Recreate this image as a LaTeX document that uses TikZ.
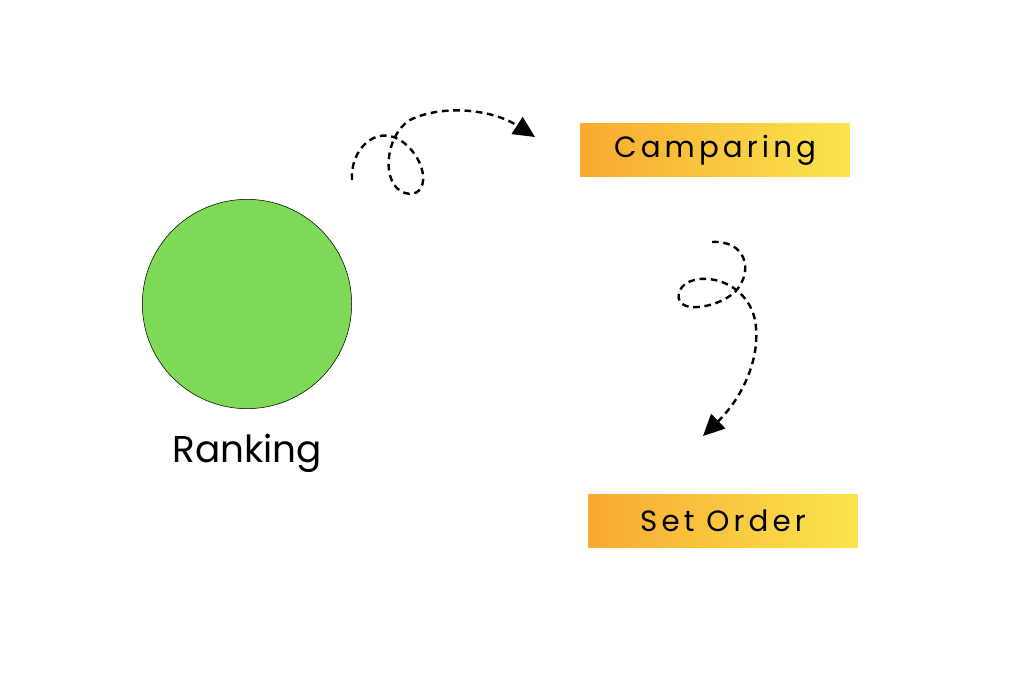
\documentclass[tikz,border=0pt]{standalone}
\usepackage{fontspec}
\setmainfont{Poppins}
\newfontfamily\spaced{Poppins}[LetterSpace=14]
\usetikzlibrary{arrows.meta}
\definecolor{orgA}{HTML}{F9A930}
\definecolor{yelB}{HTML}{FAE54E}
\definecolor{grn}{HTML}{7ED957}
\begin{document}
\begin{tikzpicture}[x=0.75pt,y=-0.75pt,
  box/.style={minimum width=202pt,minimum height=40pt,left color=orgA,right color=yelB,draw=none,font=\spaced\fontsize{22}{26}\selectfont},
  swirl/.style={dash pattern=on 5pt off 3.5pt,line width=1.8pt,-{Triangle[length=16pt,width=15pt]}}]
\useasboundingbox (0,0) rectangle (1024,683);
\node[circle,draw=black,fill=grn,minimum size=157pt,inner sep=0pt] (c) at (247,304) {};
\node[font=\fontsize{28}{32}\selectfont] (r) at (247,453) {Ranking};
\node[box] (a) at (715,150) {Camparing};
\node[box] (b) at (723,521) {Set Order};
\coordinate (s1) at (352,180);
\coordinate (e1) at (535,137);
\draw[swirl] (s1) .. controls (350,150) and (375,125) .. (400,140)
  .. controls (430,160) and (430,200) .. (405,193)
  .. controls (380,185) and (385,135) .. (410,120)
  .. controls (440,105) and (490,108) .. (e1);
\coordinate (s2) at (712,242);
\coordinate (e2) at (703,436);
\draw[swirl] (s2) .. controls (745,240) and (755,270) .. (735,292)
  .. controls (715,310) and (670,315) .. (680,290)
  .. controls (690,270) and (745,275) .. (755,320)
  .. controls (762,360) and (740,400) .. (e2);
\end{tikzpicture}
\end{document}
